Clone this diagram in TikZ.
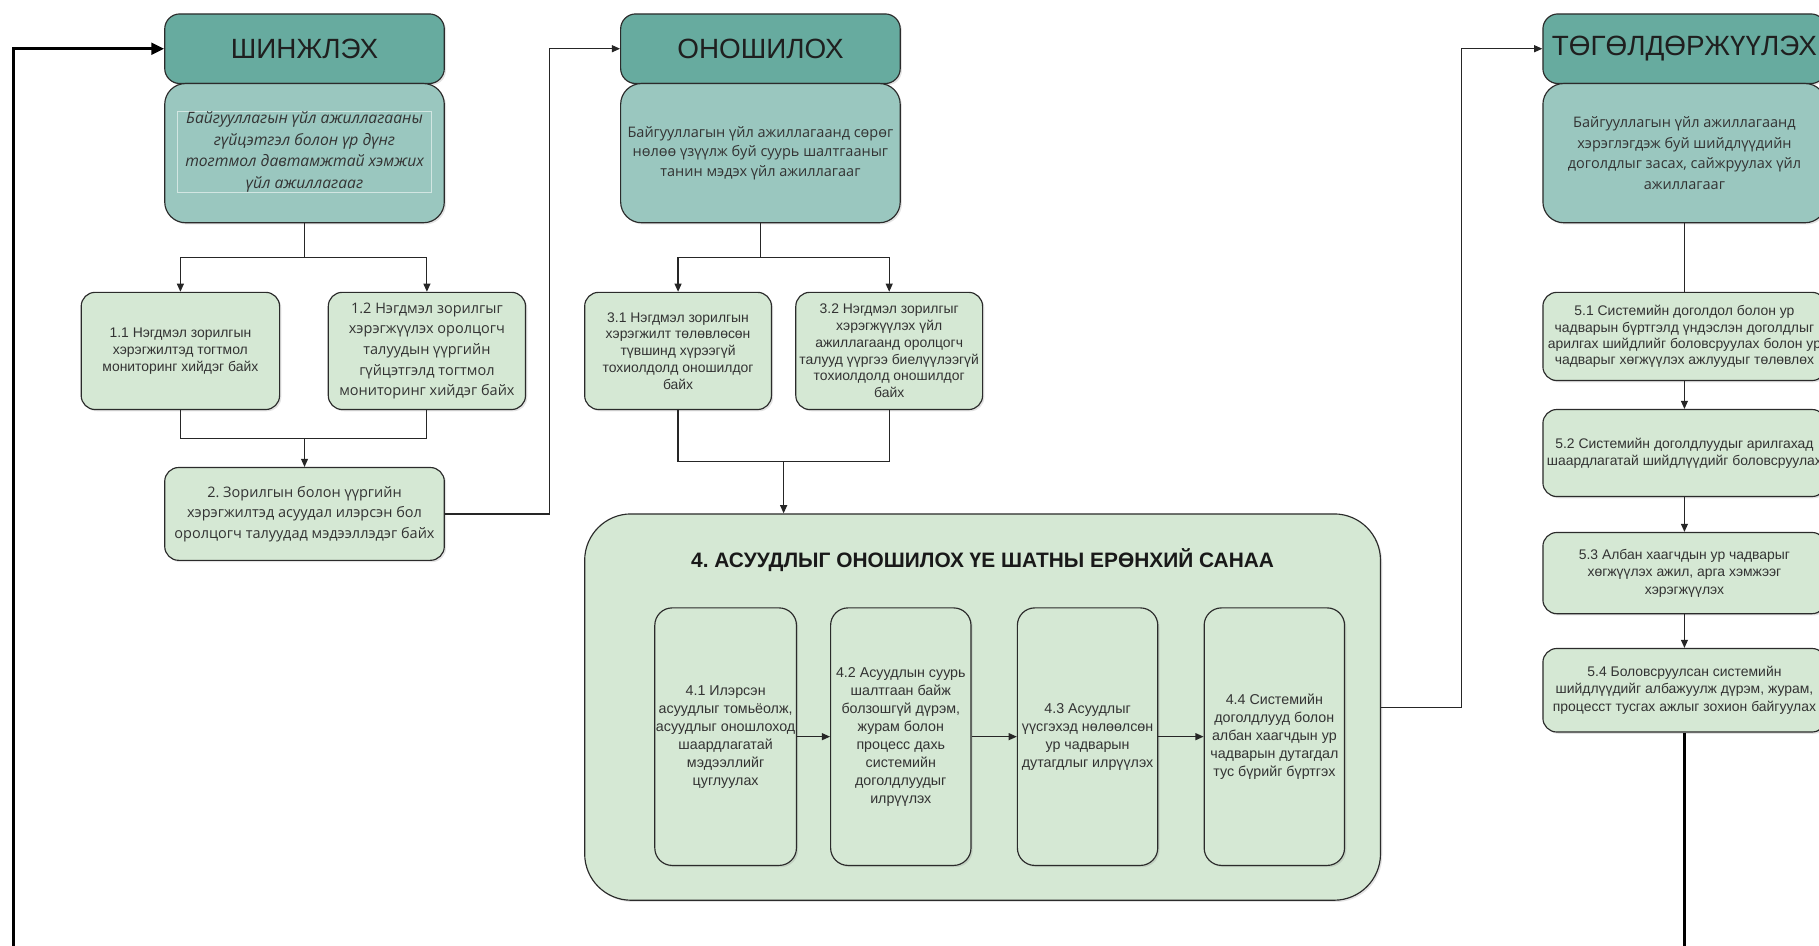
\documentclass[tikz,border=0pt]{standalone}
\usepackage{fontspec}
\setmainfont{Liberation Sans}
\newfontfamily\osans{Open Sans}
\usetikzlibrary{arrows.meta,shadows}
\definecolor{hdr}{HTML}{67AB9F}
\definecolor{bdy}{HTML}{9AC7BF}
\definecolor{grn}{HTML}{D5E8D4}
\definecolor{edge}{HTML}{2B2B2B}
\definecolor{txt}{HTML}{333333}
\frenchspacing
\begin{document}
\begin{tikzpicture}[x=1pt,y=-1pt,
  shd/.style={drop shadow={opacity=0.22,shadow xshift=1.5pt,shadow yshift=-1.5pt}},
  box/.style={draw=edge,line width=1pt,rounded corners=12pt,align=center,inner sep=1pt,text=txt,shd},
  hdrbox/.style={box,fill=hdr,rounded corners=13pt,minimum width=241pt,minimum height=60pt,
    font=\fontsize{24}{28}\selectfont,text=black!88},
  bdybox/.style={box,fill=bdy,rounded corners=18pt,minimum width=241pt,minimum height=120pt},
  gbox/.style={box,fill=grn},
  sm/.style={font=\fontsize{12}{14.5}\selectfont},
  os/.style={font=\osans\fontsize{12.5}{17.8}\selectfont},
  conn/.style={draw=black!85,line width=1pt},
  arr/.style={conn,-{Triangle[length=7pt,width=6pt]}},
  loopline/.style={draw=black,line width=2.6pt,-{Triangle[length=11pt,width=10pt]}}
]
\useasboundingbox (0,0) rectangle (1568,815);
\fill[white] (0,0) rectangle (1568,815);

% ---------- column 1 ----------
\node[hdrbox] (h1) at (262.5,42) {ШИНЖЛЭХ};
\node[bdybox] (b1) at (262.5,132) {};
\node[draw=white!55!bdy,line width=0.6pt,minimum width=219pt,minimum height=70pt,align=center,inner sep=0pt,
  text=black!80,font=\osans\itshape\fontsize{13.5}{18.7}\selectfont] (b1t) at (262.5,131)
  {Байгууллагын үйл ажиллагааны\\гүйцэтгэл болон үр дүнг\\тогтмол давтамжтай хэмжих\\үйл ажиллагааг};

\node[gbox,sm,minimum width=171pt,minimum height=101pt] (n11) at (155.5,302.5)
  {1.1 Нэгдмэл зорилгын\\хэрэгжилтэд тогтмол\\мониторинг хийдэг байх};
\node[gbox,os,minimum width=170pt,minimum height=101pt] (n12) at (368,302.5)
  {1.2 Нэгдмэл зорилгыг\\хэрэгжүүлэх оролцогч\\талуудын үүргийн\\гүйцэтгэлд тогтмол\\мониторинг хийдэг байх};
\node[gbox,os,minimum width=241pt,minimum height=80pt] (n2) at (262.5,443)
  {2. Зорилгын болон үүргийн\\хэрэгжилтэд асуудал илэрсэн бол\\оролцогч талуудад мэдээллэдэг байх};

% ---------- column 2 ----------
\node[hdrbox] (h2) at (655.5,42) {ОНОШИЛОХ};
\node[bdybox,os,font=\osans\fontsize{12.5}{17}\selectfont,text=black!80] (b2) at (655.5,132)
  {Байгууллагын үйл ажиллагаанд сөрөг\\нөлөө үзүүлж буй суурь шалтгааныг\\танин мэдэх үйл ажиллагааг};

\node[gbox,sm,minimum width=161pt,minimum height=101pt] (n31) at (584.5,302.5)
  {3.1 Нэгдмэл зорилгын\\хэрэгжилт төлөвлөсөн\\түвшинд хүрээгүй\\тохиолдолд оношилдог\\байх};
\node[gbox,sm,minimum width=161pt,minimum height=101pt] (n32) at (766.5,302.5)
  {3.2 Нэгдмэл зорилгыг\\хэрэгжүүлэх үйл\\ажиллагаанд оролцогч\\талууд үүргээ биелүүлээгүй\\тохиолдолд оношилдог\\байх};

\node[gbox,rounded corners=40pt,minimum width=686pt,minimum height=333pt] (b4) at (847,609.5) {};
\node[font=\bfseries\fontsize{18}{22}\selectfont,text=black!90] (t4) at (847,483)
  {4. АСУУДЛЫГ ОНОШИЛОХ ҮЕ ШАТНЫ ЕРӨНХИЙ САНАА};
\tikzset{ibox/.style={box,fill=grn,rounded corners=15pt,minimum width=121pt,minimum height=222pt,
  font=\fontsize{12.3}{15.5}\selectfont,drop shadow={opacity=0}}}
\node[ibox] (n41) at (625.5,635)
  {4.1 Илэрсэн\\асуудлыг томьёолж,\\асуудлыг оношлоход\\шаардлагатай\\мэдээллийг\\цуглуулах};
\node[ibox] (n42) at (776.5,635)
  {4.2 Асуудлын суурь\\шалтгаан байж\\болзошгүй дүрэм,\\журам болон\\процесс дахь\\системийн\\доголдлуудыг\\илрүүлэх};
\node[ibox] (n43) at (937.5,635)
  {4.3 Асуудлыг\\үүсгэхэд нөлөөлсөн\\ур чадварын\\дутагдлыг илрүүлэх};
\node[ibox] (n44) at (1098.5,635)
  {4.4 Системийн\\доголдлууд болон\\албан хаагчдын ур\\чадварын дутагдал\\тус бүрийг бүртгэх};

% ---------- column 3 ----------
\node[hdrbox,minimum width=244pt] (h3) at (1452,42) {ТӨГӨЛДӨРЖҮҮЛЭХ};
\node[bdybox,minimum width=244pt,font=\osans\fontsize{12.5}{18}\selectfont,text=black!80] (b3) at (1452,132)
  {Байгууллагын үйл ажиллагаанд\\хэрэглэгдэж буй шийдлүүдийн\\доголдлыг засах, сайжруулах үйл\\ажиллагааг};
\node[gbox,sm,font=\fontsize{12}{14}\selectfont,minimum width=244pt,minimum height=76pt] (n51) at (1452,290)
  {5.1 Системийн доголдол болон ур\\чадварын бүртгэлд үндэслэн доголдлыг\\арилгах шийдлийг боловсруулах болон ур\\чадварыг хөгжүүлэх ажлуудыг төлөвлөх};
\node[gbox,sm,font=\fontsize{12}{15}\selectfont,minimum width=244pt,minimum height=75pt] (n52) at (1452,390.5)
  {5.2 Системийн доголдлуудыг арилгахад\\шаардлагатай шийдлүүдийг боловсруулах};
\node[gbox,sm,font=\fontsize{12}{15}\selectfont,minimum width=244pt,minimum height=70pt] (n53) at (1452,494)
  {5.3 Албан хаагчдын ур чадварыг\\хөгжүүлэх ажил, арга хэмжээг\\хэрэгжүүлэх};
\node[gbox,sm,font=\fontsize{12}{15}\selectfont,minimum width=244pt,minimum height=72pt] (n54) at (1452,595)
  {5.4 Боловсруулсан системийн\\шийдлүүдийг албажуулж дүрэм, журам,\\процесст тусгах ажлыг зохион байгуулах};

% ---------- connectors ----------
\coordinate (j1) at (262.5,222);
\draw[conn] (b1.south) -- (j1);
\draw[arr] (j1) -| (n11.north);
\draw[arr] (j1) -| (n12.north);
\coordinate (j2) at (262.5,378);
\draw[conn] (n11.south) |- (j2) -| (n12.south);
\draw[arr] (j2) -- (n2.north);
\coordinate (k1) at (474,443);
\draw[arr] (n2.east) -- (k1) |- (h2.west);

\coordinate (j3) at (655.5,222);
\draw[conn] (b2.south) -- (j3);
\draw[arr] (j3) -| (n31.north);
\draw[arr] (j3) -| (n32.north);
\coordinate (j4) at (675.5,398);
\draw[conn] (n31.south) |- (j4) -| (n32.south);
\draw[arr] (j4) -- (j4 |- b4.north);

\draw[arr] (n41.east) -- (n42.west);
\draw[arr] (n42.east) -- (n43.west);
\draw[arr] (n43.east) -- (n44.west);
\coordinate (k2) at (1260,609.5);
\draw[arr] (b4.east) -- (k2) |- (h3.west);

\draw[conn] (b3.south) -- (n51.north);
\draw[arr] (n51.south) -- (n52.north);
\draw[arr] (n52.south) -- (n53.north);
\draw[arr] (n53.south) -- (n54.north);

\coordinate (lr) at (1452,830);
\coordinate (ll) at (12,830);
\draw[loopline] (n54.south) -- (lr) -- (ll) |- (h1.west);
\end{tikzpicture}
\end{document}
